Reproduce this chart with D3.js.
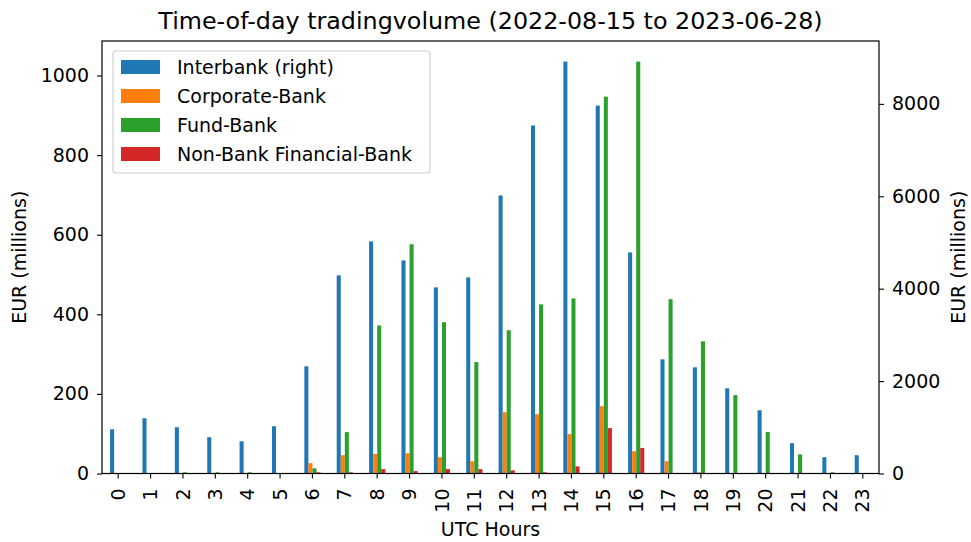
<!DOCTYPE html>
<html>
<head>
<meta charset="utf-8">
<script src="https://cdn.jsdelivr.net/npm/d3@7"></script>
<style>
  body { margin: 0; background: #fff; }
  text { font-family: "DejaVu Sans", sans-serif; fill: #000; }
</style>
</head>
<body>
<div id="viz-1"></div>
<script>
/* ################ chart data ################ */
var hours = ["0", "1", "2", "3", "4", "5", "6", "7", "8", "9", "10", "11",
  "12", "13", "14", "15", "16", "17", "18", "19", "20", "21", "22", "23"];
var seriesNames = ["Interbank (right)", "Corporate-Bank", "Fund-Bank", "Non-Bank Financial-Bank"];
var seriesColors = ["#1f77b4", "#ff7f0e", "#2ca02c", "#d62728"];

// interbank goes on the right axis
var interbank = [958, 1196, 1001, 785, 698, 1023, 2320, 4288, 5023, 4612, 4028, 4244,
  6017, 7531, 8915, 7963, 4785, 2471, 2298, 1844, 1369, 655, 352, 396];
var corporateBank = [0, 0, 0, 0, 0, 0, 26, 46, 49, 51, 41, 31,
  154, 149, 99, 169, 56, 31, 3, 0, 0, 0, 0, 0];
var fundBank = [0, 0, 3, 3, 3, 0, 13, 104, 372, 576, 380, 280,
  360, 425, 440, 947, 1035, 438, 332, 197, 104, 48, 3, 0];
var nonBankFinancial = [0, 0, 0, 0, 0, 0, 3, 3, 11, 6, 11, 11,
  8, 3, 18, 114, 64, 0, 0, 0, 0, 0, 0, 0];

var leftTicks = [0, 200, 400, 600, 800, 1000];
var rightTicks = [0, 2000, 4000, 6000, 8000];
/* ################################################################## */

var width = 971, height = 542;
var margin = { left: 102, right: 971 - 879, top: 41, bottom: 542 - 473.5 };
var fontSize = 19;

var svg = d3.select("#viz-1")
  .append("svg")
  .attr("width", width)
  .attr("height", height);

// outer band for the hours, inner band for the 4 series (pandas width 0.5)
var x = d3.scaleBand()
  .domain(hours)
  .range([margin.left, width - margin.right])
  .paddingInner(0.5)
  .paddingOuter(0.25);

var xInner = d3.scaleBand()
  .domain(d3.range(seriesNames.length))
  .range([0, x.bandwidth()]);

var yLeft = d3.scaleLinear()
  .domain([0, d3.max(fundBank.concat(corporateBank, nonBankFinancial)) * 1.05])
  .range([height - margin.bottom, margin.top]);

var yRight = d3.scaleLinear()
  .domain([0, d3.max(interbank) * 1.05])
  .range([height - margin.bottom, margin.top]);

// one list per series with the axis it belongs to
var allSeries = [
  { values: interbank, y: yRight },
  { values: corporateBank, y: yLeft },
  { values: fundBank, y: yLeft },
  { values: nonBankFinancial, y: yLeft }
];

allSeries.forEach(function(s, i) {
  svg.append("g")
    .attr("fill", seriesColors[i])
    .selectAll("rect")
    .data(s.values)
    .enter().append("rect")
    .attr("x", function(d, j) { return x(hours[j]) + xInner(i); })
    .attr("width", xInner.bandwidth())
    .attr("y", function(d) { return s.y(d); })
    .attr("height", function(d) { return s.y(0) - s.y(d); });
});

// axes
var xAxis = svg.append("g")
  .attr("transform", "translate(0," + (height - margin.bottom) + ")")
  .call(d3.axisBottom(x).tickSizeOuter(0).tickSize(5));
xAxis.selectAll("text")
  .attr("transform", "rotate(-90)")
  .attr("x", -15)
  .attr("y", 0)
  .attr("dy", "0.35em")
  .attr("text-anchor", "end");

var leftAxis = svg.append("g")
  .attr("transform", "translate(" + margin.left + ",0)")
  .call(d3.axisLeft(yLeft).tickValues(leftTicks).tickFormat(d3.format("d"))
    .tickSizeOuter(0).tickSize(5).tickPadding(8));

var rightAxis = svg.append("g")
  .attr("transform", "translate(" + (width - margin.right) + ",0)")
  .call(d3.axisRight(yRight).tickValues(rightTicks).tickFormat(d3.format("d"))
    .tickSizeOuter(0).tickSize(5).tickPadding(8));

[xAxis, leftAxis, rightAxis].forEach(function(a) {
  a.select(".domain").remove();
  a.selectAll("text")
    .style("font-family", "'DejaVu Sans', sans-serif")
    .style("font-size", fontSize + "px")
    .attr("fill", "#000");
  a.selectAll("line").attr("stroke", "#000").attr("stroke-width", 1.1);
});

// frame
svg.append("rect")
  .attr("x", margin.left)
  .attr("y", margin.top)
  .attr("width", width - margin.left - margin.right)
  .attr("height", height - margin.top - margin.bottom)
  .attr("fill", "none")
  .attr("stroke", "#000")
  .attr("stroke-width", 1.2);

// title and axis labels
svg.append("text")
  .attr("x", (margin.left + width - margin.right) / 2)
  .attr("y", 29)
  .attr("text-anchor", "middle")
  .style("font-size", "23.8px")
  .text("Time-of-day tradingvolume (2022-08-15 to 2023-06-28)");

svg.append("text")
  .attr("x", (margin.left + width - margin.right) / 2)
  .attr("y", 536)
  .attr("text-anchor", "middle")
  .style("font-size", fontSize + "px")
  .text("UTC Hours");

var midY = (margin.top + height - margin.bottom) / 2;
svg.append("text")
  .attr("transform", "translate(26," + midY + ") rotate(-90)")
  .attr("text-anchor", "middle")
  .style("font-size", fontSize + "px")
  .text("EUR (millions)");

svg.append("text")
  .attr("transform", "translate(965," + midY + ") rotate(-90)")
  .attr("text-anchor", "middle")
  .style("font-size", fontSize + "px")
  .text("EUR (millions)");

// legend
var legend = svg.append("g");
legend.append("rect")
  .attr("x", 113)
  .attr("y", 51)
  .attr("width", 317)
  .attr("height", 122)
  .attr("rx", 3)
  .attr("fill", "#fff")
  .attr("fill-opacity", 0.8)
  .attr("stroke", "#cccccc")
  .attr("stroke-width", 1.1);

var legendRow = legend.selectAll("g.row")
  .data(seriesNames)
  .enter().append("g")
  .attr("class", "row")
  .attr("transform", function(d, i) { return "translate(0," + (67 + i * 29) + ")"; });

legendRow.append("rect")
  .attr("x", 121)
  .attr("y", -7)
  .attr("width", 39)
  .attr("height", 14)
  .attr("fill", function(d, i) { return seriesColors[i]; });

legendRow.append("text")
  .attr("x", 177)
  .attr("y", 0)
  .attr("dy", "0.35em")
  .style("font-size", fontSize + "px")
  .text(function(d) { return d; });
</script>
</body>
</html>
